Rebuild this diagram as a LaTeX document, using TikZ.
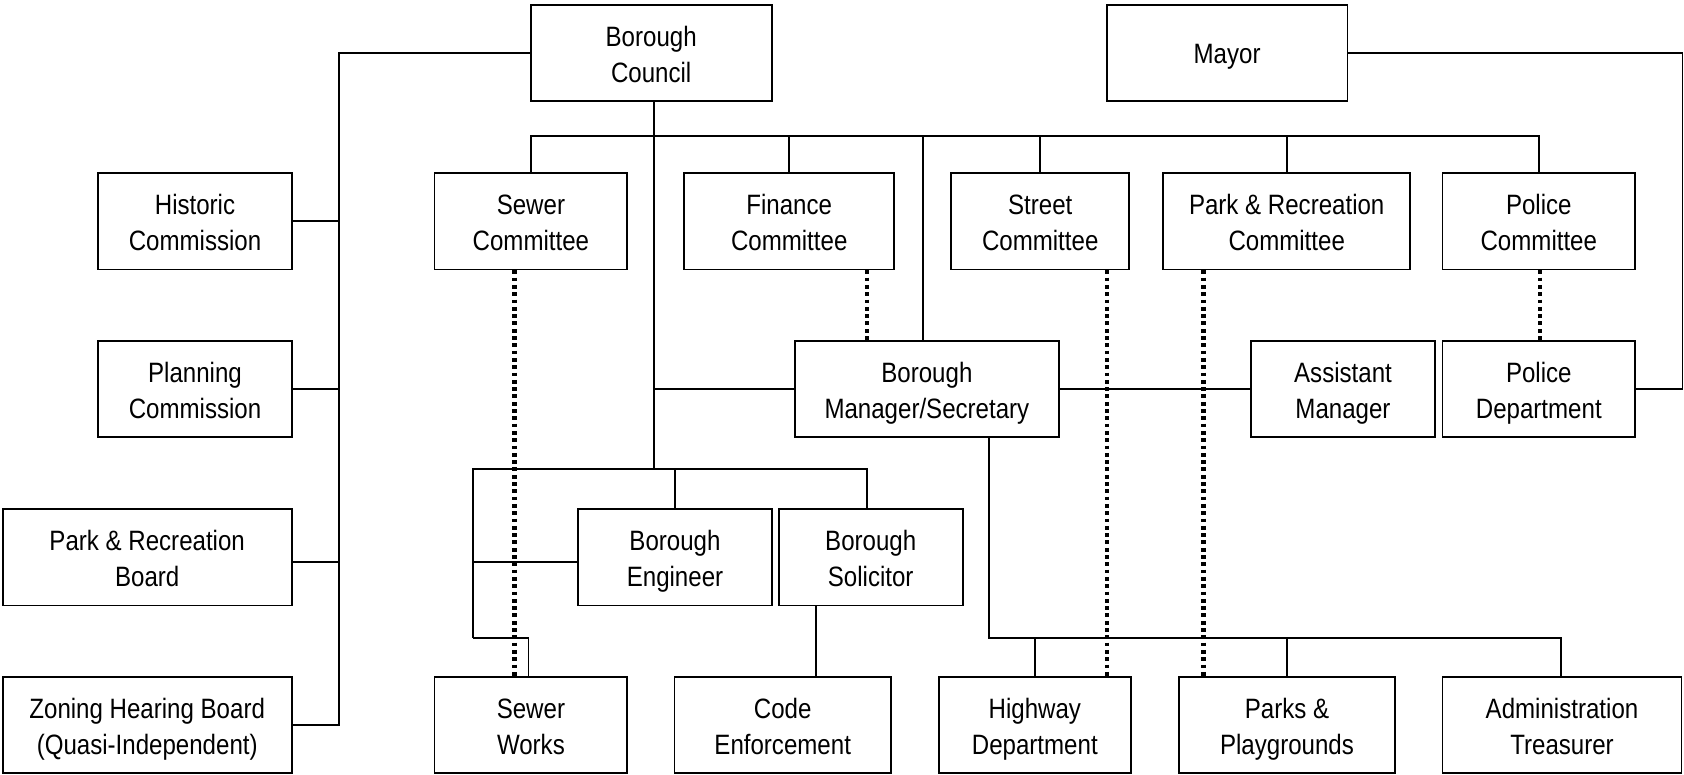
\documentclass[tikz,border=0pt]{standalone}
\usepackage{fontspec}
\setmainfont{Liberation Sans}[FakeStretch=0.86]
\newcommand{\hs}{\rule[-6pt]{0pt}{34.7pt}}
\newcommand{\os}{\rule[-6pt]{0pt}{33pt}}
\begin{document}
\begin{tikzpicture}[x=1pt,y=-1pt,
  box/.style={draw, line width=1.8pt, inner sep=0pt, align=center,
    font=\fontsize{28}{34.3}\selectfont, minimum height=96.5pt},
  conn/.style={line width=1.8pt},
  dotline/.style={line width=4.2pt, dash pattern=on 3.8pt off 3.5pt}]
\useasboundingbox (0,0) rectangle (1684,774);
% top row
\node[box, minimum width=241pt] (council) at (651.2,53) {\hs Borough\\Council\hs};
\node[box, minimum width=240.6pt] (mayor) at (1227.1,53) {\os Mayor};
% committees row
\node[box, minimum width=193.3pt] (historic) at (195,221.2) {\hs Historic\\Commission\hs};
\node[box, minimum width=192.8pt] (sewercom) at (530.9,221.2) {\hs Sewer\\Committee\hs};
\node[box, minimum width=210pt] (financecom) at (789.2,221.2) {\hs Finance\\Committee\hs};
\node[box, minimum width=178.3pt] (streetcom) at (1040.2,221.2) {\hs Street\\Committee\hs};
\node[box, minimum width=247pt] (parkcom) at (1286.7,221.2) {\hs Park \& Recreation\\Committee\hs};
\node[box, minimum width=192.8pt] (policecom) at (1538.8,221.2) {\hs Police\\Committee\hs};
% manager row
\node[box, minimum width=193.3pt] (planning) at (195,389) {\hs Planning\\Commission\hs};
\node[box, minimum width=264.2pt] (manager) at (926.9,389) {\hs Borough\\Manager/Secretary\hs};
\node[box, minimum width=183.7pt] (asst) at (1343,389) {\hs Assistant\\Manager\hs};
\node[box, minimum width=192.8pt] (policedept) at (1538.8,389) {\hs Police\\Department\hs};
% engineer row
\node[box, minimum width=288.9pt] (parkboard) at (147.2,557.2) {\hs Park \& Recreation\\Board\hs};
\node[box, minimum width=193.3pt] (engineer) at (675,557.2) {\hs Borough\\Engineer\hs};
\node[box, minimum width=184.1pt] (solicitor) at (870.7,557.2) {\hs Borough\\Solicitor\hs};
% bottom row
\node[box, minimum width=288.9pt] (zoning) at (147.2,725) {\hs Zoning Hearing Board\\(Quasi-Independent)\hs};
\node[box, minimum width=192.8pt] (sewerworks) at (530.9,725) {\hs Sewer\\Works\hs};
\node[box, minimum width=216.4pt] (code) at (782.7,725) {\hs Code\\Enforcement\hs};
\node[box, minimum width=192.2pt] (highway) at (1034.8,725) {\hs Highway\\Department\hs};
\node[box, minimum width=216.5pt] (parks) at (1287,725) {\hs Parks \&\\Playgrounds\hs};
\node[box, minimum width=239pt] (admin) at (1562,725) {\hs Administration\\Treasurer\hs};
% helper coordinates
\coordinate (b1) at (0,136);
\coordinate (b2) at (0,469);
\coordinate (b3) at (0,637.7);
\coordinate (lx) at (338.9,0);
\coordinate (rx) at (1682.5,0);
\coordinate (ex) at (473.1,0);
\coordinate (sx) at (528.5,0);
\coordinate (pbE) at ([yshift=-4.8pt]parkboard.east);
\coordinate (enW) at ([yshift=-4.8pt]engineer.west);
\coordinate (cS) at ([xshift=2.4pt]council.south);
\coordinate (mN) at ([xshift=-4pt]manager.north);
\coordinate (mS) at ([xshift=62.3pt]manager.south);
\coordinate (soN) at ([xshift=-3.5pt]solicitor.north);
\coordinate (soS) at ([xshift=-54.4pt]solicitor.south);
\coordinate (adN) at ([xshift=-0.9pt]admin.north);
% council bus to committees
\draw[conn] (sewercom.north) |- (policecom.north |- b1) -- (policecom.north);
\draw[conn] (financecom.north) -- (financecom.north |- b1);
\draw[conn] (streetcom.north) -- (streetcom.north |- b1);
\draw[conn] (parkcom.north) -- (parkcom.north |- b1);
\draw[conn] (mN) -- (mN |- b1);
% council vertical
\draw[conn] (cS) -- (cS |- b2);
\draw[conn] (cS |- manager.west) -- (manager.west);
\draw[conn] (manager.east) -- (asst.west);
% mayor to police department
\draw[conn] (mayor.east) -| (rx |- policedept.east) -- (policedept.east);
% council to left boards
\draw[conn] (council.west) -| (lx |- zoning.east) -- (zoning.east);
\draw[conn] (historic.east) -- (lx |- historic.east);
\draw[conn] (planning.east) -- (lx |- planning.east);
\draw[conn] (pbE) -- (lx |- pbE);
% engineer bus
\draw[conn] (ex |- b3) -- (ex |- b2) -- (soN |- b2) -- (soN);
\draw[conn] (engineer.north) -- (engineer.north |- b2);
\draw[conn] (ex |- enW) -- (enW);
\draw[conn] (ex |- b3) -- (sx |- b3) -- (sx |- sewerworks.north);
\draw[conn] (soS) -- (soS |- code.north);
% manager to departments
\draw[conn] (mS) |- (adN |- b3) -- (adN);
\draw[conn] (highway.north) -- (highway.north |- b3);
\draw[conn] (parks.north) -- (parks.north |- b3);
% dotted advisory lines
\draw[dotline] ([xshift=-16.4pt]sewercom.south) -- ([xshift=-16.4pt]sewercom.south |- sewerworks.north);
\draw[dotline] ([xshift=77.5pt]financecom.south) -- ([xshift=77.5pt]financecom.south |- manager.north);
\draw[dotline] ([xshift=66.6pt]streetcom.south) -- ([xshift=66.6pt]streetcom.south |- highway.north);
\draw[dotline] ([xshift=-83.3pt]parkcom.south) -- ([xshift=-83.3pt]parkcom.south |- parks.north);
\draw[dotline] ([xshift=1.4pt]policecom.south) -- ([xshift=1.4pt]policecom.south |- policedept.north);
\end{tikzpicture}
\end{document}
